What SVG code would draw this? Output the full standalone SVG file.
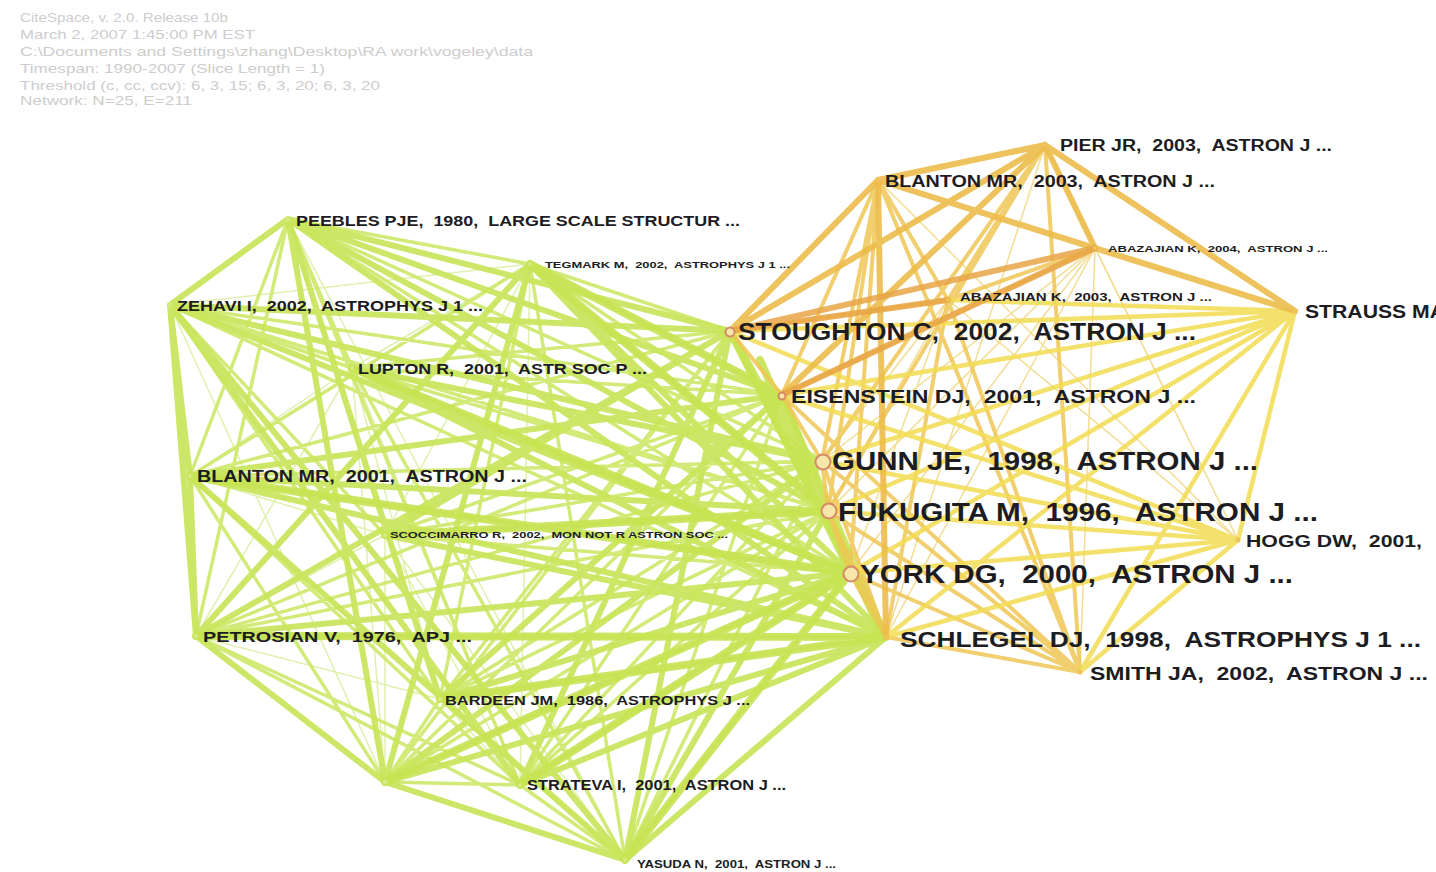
<svg xmlns="http://www.w3.org/2000/svg" width="1436" height="872" viewBox="0 0 1436 872" xml:space="preserve">
<style>
.hd{font-family:"Liberation Sans",Arial,sans-serif;font-size:13px;fill:#cdcdcd}
.lb{font-family:"Liberation Sans",Arial,sans-serif;font-weight:bold;fill:#1c1c22;white-space:pre}
.e{fill:none;stroke-linecap:round}
.gt{stroke:#c8e55a;stroke-width:6;opacity:.92}
.gx{stroke:#c6e352;stroke-width:8;opacity:.9}
.gm{stroke:#cde868;stroke-width:3.5;opacity:.9}
.gs{stroke:#e0f0ae;stroke-width:1.5}
.ot{stroke:#ecbb4a;stroke-width:6;opacity:.9}
.oo{stroke:#e8a445;stroke-width:6;opacity:.85}
.om{stroke:#efc655;stroke-width:4;opacity:.85}
.oy{stroke:#f2dc52;stroke-width:4.5;opacity:.85}
.os{stroke:#f3dd95;stroke-width:1.5}
.dg{fill:#d5ea80}
.do{fill:#efc45a}
.rg{fill:#f6e7a8;stroke:#d58a66;stroke-width:2}
</style>
<g id="header">
<text class="hd" x="20" y="22" textLength="208" lengthAdjust="spacingAndGlyphs">CiteSpace, v. 2.0. Release 10b</text>
<text class="hd" x="20" y="39" textLength="235" lengthAdjust="spacingAndGlyphs">March 2, 2007 1:45:00 PM EST</text>
<text class="hd" x="20" y="56" textLength="513" lengthAdjust="spacingAndGlyphs">C:\Documents and Settings\zhang\Desktop\RA work\vogeley\data</text>
<text class="hd" x="20" y="73" textLength="305" lengthAdjust="spacingAndGlyphs">Timespan: 1990-2007 (Slice Length = 1)</text>
<text class="hd" x="20" y="90" textLength="360" lengthAdjust="spacingAndGlyphs">Threshold (c, cc, ccv): 6, 3, 15; 6, 3, 20; 6, 3, 20</text>
<text class="hd" x="20" y="105" textLength="172" lengthAdjust="spacingAndGlyphs">Network: N=25, E=211</text>
</g>
<g id="connectors">
<path class="e gs" d="M170 305L385 782M288 219L385 535M190 476L352 368M190 476L440 699M196 636L385 535M196 636L440 699M385 535L625 860M352 368L440 699M530 264L352 368M530 264L385 535M530 264L520 785M385 782L352 368M385 782L385 535M190 476L385 535M288 219L625 860M170 305L530 264M352 368L520 785M196 636L352 368M385 535L520 785M440 699L520 785"/>
<path class="e gm" d="M288 219L530 264M288 219L822 461M288 219L850 573M170 305L782 395M170 305L828 511M170 305L886 637M190 476L730 331M190 476L822 461M190 476L850 573M196 636L782 395M196 636L822 461M196 636L828 511M196 636L886 637M385 782L730 331M385 782L782 395M385 782L828 511M385 782L850 573M625 860L782 395M625 860L822 461M625 860L850 573M530 264L730 331M530 264L782 395M530 264L822 461M530 264L828 511M530 264L190 476M530 264L440 699M530 264L625 860M352 368L730 331M352 368L782 395M352 368L828 511M352 368L850 573M352 368L625 860M385 535L782 395M385 535L822 461M385 535L828 511M385 535L850 573M440 699L730 331M440 699L822 461M440 699L828 511M440 699L886 637M520 785L782 395M520 785L822 461M520 785L828 511M520 785L850 573M288 219L190 476M288 219L196 636M288 219L352 368M288 219L520 785M170 305L440 699M170 305L385 535M190 476L385 782M190 476L520 785M196 636L625 860M196 636L520 785M385 782L440 699M385 782L520 785M625 860L440 699M625 860L520 785M170 305L352 368"/>
<path class="e gt" d="M288 219L170 305M170 305L190 476M190 476L196 636M170 305L196 636M196 636L385 782M385 782L625 860M625 860L886 637M288 219L730 331M288 219L782 395M288 219L828 511M288 219L886 637M170 305L730 331M170 305L822 461M170 305L850 573M190 476L782 395M190 476L828 511M190 476L886 637M196 636L730 331M196 636L850 573M385 782L822 461M385 782L886 637M625 860L730 331M625 860L828 511M530 264L886 637M530 264L850 573M530 264L196 636M530 264L385 782M288 219L385 782M170 305L625 860M352 368L886 637M352 368L822 461M385 535L730 331M385 535L886 637M440 699L782 395M440 699L850 573M520 785L730 331M520 785L886 637M288 219L440 699M170 305L520 785M190 476L625 860M730 331L886 637M782 395L886 637M730 331L850 573"/>
<path class="e gx" d="M530 264L782 395M530 264L828 511M352 368L850 573M385 535L828 511M440 699L886 637M520 785L850 573M625 860L850 573M385 782L850 573M196 636L886 637M190 476L850 573M730 331L828 511M782 395L850 573M730 331L886 637M760 360L880 630"/>
<path class="e os" d="M1095 248L822 461M1095 248L850 573M1095 248L1080 672M1095 248L1238 540M1095 248L886 637M1045 145L886 637M948 300L822 461M948 300L850 573M948 300L1238 540M878 180L1238 540M1045 145L1238 540M948 300L828 511M1095 248L828 511"/>
<path class="e om" d="M1045 145L948 300M1045 145L822 461M1045 145L828 511M878 180L782 395M878 180L822 461M878 180L850 573M878 180L948 300M1095 248L782 395M1095 248L948 300M948 300L730 331M948 300L886 637M948 300L1080 672M1080 672L886 637M1080 672L850 573M1080 672L828 511M1080 672L822 461M1080 672L782 395M1080 672L878 180M1080 672L1045 145M886 637L850 573M886 637L828 511M886 637L822 461M730 331L782 395M782 395L822 461M822 461L828 511M828 511L850 573M878 180L828 511"/>
<path class="e oy" d="M1295 311L730 331M1295 311L782 395M1295 311L822 461M1295 311L828 511M1295 311L850 573M1295 311L886 637M1295 311L1238 540M1295 311L1080 672M1295 311L948 300M1238 540L822 461M1238 540L828 511M1238 540L850 573M1238 540L886 637M1238 540L1080 672M1238 540L782 395M1238 540L730 331"/>
<path class="e ot" d="M1045 145L878 180M1045 145L1295 311M1045 145L1095 248M878 180L1095 248M1095 248L1295 311M730 331L1045 145M878 180L730 331M878 180L1295 311M878 180L886 637M1045 145L782 395"/>
<path class="e oo" d="M730 331L1095 248M782 395L1095 248M730 331L948 300"/>
</g>
<g id="n-peebles"><circle class="dg" cx="288" cy="219" r="2.5"/><text class="lb" x="296" y="226" font-size="15" textLength="444" lengthAdjust="spacingAndGlyphs">PEEBLES PJE,  1980,  LARGE SCALE STRUCTUR ...</text></g>
<g id="n-tegmark"><circle class="dg" cx="530" cy="264" r="2"/><text class="lb" x="545" y="268" font-size="9" textLength="245" lengthAdjust="spacingAndGlyphs">TEGMARK M,  2002,  ASTROPHYS J 1 ...</text></g>
<g id="n-zehavi"><circle class="dg" cx="170" cy="305" r="2.5"/><text class="lb" x="177" y="311" font-size="14" textLength="306" lengthAdjust="spacingAndGlyphs">ZEHAVI I,  2002,  ASTROPHYS J 1 ...</text></g>
<g id="n-lupton"><circle class="dg" cx="352" cy="368" r="2"/><text class="lb" x="358" y="374" font-size="14" textLength="289" lengthAdjust="spacingAndGlyphs">LUPTON R,  2001,  ASTR SOC P ...</text></g>
<g id="n-blanton2001"><circle class="dg" cx="190" cy="476" r="2.5"/><text class="lb" x="197" y="482" font-size="16" textLength="330" lengthAdjust="spacingAndGlyphs">BLANTON MR,  2001,  ASTRON J ...</text></g>
<g id="n-scoccimarro"><circle class="dg" cx="385" cy="535" r="2"/><text class="lb" x="390" y="538" font-size="9" textLength="338" lengthAdjust="spacingAndGlyphs">SCOCCIMARRO R,  2002,  MON NOT R ASTRON SOC ...</text></g>
<g id="n-petrosian"><circle class="dg" cx="196" cy="636" r="2.5"/><text class="lb" x="203" y="642" font-size="15" textLength="269" lengthAdjust="spacingAndGlyphs">PETROSIAN V,  1976,  APJ ...</text></g>
<g id="n-bardeen"><circle class="dg" cx="440" cy="699" r="2"/><text class="lb" x="445" y="705" font-size="13" textLength="305" lengthAdjust="spacingAndGlyphs">BARDEEN JM,  1986,  ASTROPHYS J ...</text></g>
<g id="n-hub"><circle class="dg" cx="385" cy="782" r="2.5"/></g>
<g id="n-strateva"><circle class="dg" cx="520" cy="785" r="2"/><text class="lb" x="527" y="790" font-size="14" textLength="259" lengthAdjust="spacingAndGlyphs">STRATEVA I,  2001,  ASTRON J ...</text></g>
<g id="n-yasuda"><circle class="dg" cx="625" cy="860" r="2"/><text class="lb" x="637" y="868" font-size="10" textLength="199" lengthAdjust="spacingAndGlyphs">YASUDA N,  2001,  ASTRON J ...</text></g>
<g id="n-pier"><circle class="do" cx="1045" cy="145" r="2.5"/><text class="lb" x="1060" y="151" font-size="16" textLength="272" lengthAdjust="spacingAndGlyphs">PIER JR,  2003,  ASTRON J ...</text></g>
<g id="n-blanton2003"><circle class="do" cx="878" cy="180" r="2.5"/><text class="lb" x="885" y="187" font-size="16" textLength="330" lengthAdjust="spacingAndGlyphs">BLANTON MR,  2003,  ASTRON J ...</text></g>
<g id="n-abazajian2004"><circle class="do" cx="1095" cy="248" r="2"/><text class="lb" x="1108" y="252" font-size="9" textLength="220" lengthAdjust="spacingAndGlyphs">ABAZAJIAN K,  2004,  ASTRON J ...</text></g>
<g id="n-abazajian2003"><circle class="do" cx="948" cy="300" r="2"/><text class="lb" x="960" y="301" font-size="11" textLength="252" lengthAdjust="spacingAndGlyphs">ABAZAJIAN K,  2003,  ASTRON J ...</text></g>
<g id="n-strauss"><circle class="do" cx="1295" cy="311" r="2.5"/><text class="lb" x="1305" y="318" font-size="19" textLength="140" lengthAdjust="spacingAndGlyphs">STRAUSS MA</text></g>
<g id="n-stoughton"><circle class="rg" cx="730" cy="332" r="4.5"/><text class="lb" x="738" y="340" font-size="24" textLength="458" lengthAdjust="spacingAndGlyphs">STOUGHTON C,  2002,  ASTRON J ...</text></g>
<g id="n-eisenstein"><circle class="rg" cx="782" cy="396" r="3.5" stroke-width="1.5"/><text class="lb" x="791" y="403" font-size="19" textLength="405" lengthAdjust="spacingAndGlyphs">EISENSTEIN DJ,  2001,  ASTRON J ...</text></g>
<g id="n-gunn"><circle class="rg" cx="823" cy="462" r="7.5"/><text class="lb" x="832" y="470" font-size="25" textLength="426" lengthAdjust="spacingAndGlyphs">GUNN JE,  1998,  ASTRON J ...</text></g>
<g id="n-fukugita"><circle class="rg" cx="829" cy="511" r="7.5"/><text class="lb" x="838" y="521" font-size="25" textLength="480" lengthAdjust="spacingAndGlyphs">FUKUGITA M,  1996,  ASTRON J ...</text></g>
<g id="n-hogg"><circle class="do" cx="1238" cy="540" r="2.5"/><text class="lb" x="1246" y="547" font-size="17" textLength="176" lengthAdjust="spacingAndGlyphs">HOGG DW,  2001,</text></g>
<g id="n-york"><circle class="rg" cx="851" cy="574" r="7.5"/><text class="lb" x="860" y="583" font-size="25" textLength="433" lengthAdjust="spacingAndGlyphs">YORK DG,  2000,  ASTRON J ...</text></g>
<g id="n-schlegel"><circle class="do" cx="886" cy="637" r="2.5"/><text class="lb" x="900" y="647" font-size="22" textLength="521" lengthAdjust="spacingAndGlyphs">SCHLEGEL DJ,  1998,  ASTROPHYS J 1 ...</text></g>
<g id="n-smith"><circle class="do" cx="1080" cy="672" r="2.5"/><text class="lb" x="1090" y="680" font-size="18" textLength="338" lengthAdjust="spacingAndGlyphs">SMITH JA,  2002,  ASTRON J ...</text></g>
</svg>
